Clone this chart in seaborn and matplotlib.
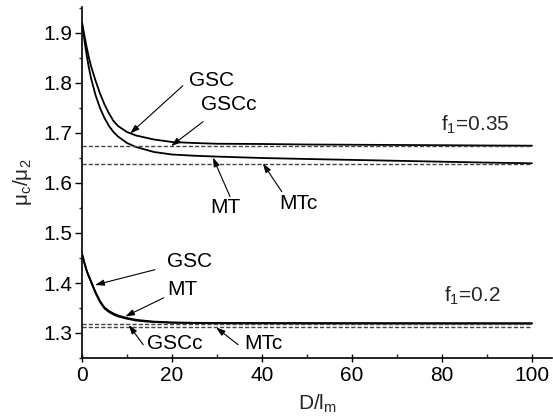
import numpy as np
import pandas as pd
import matplotlib
matplotlib.use("Agg")
import matplotlib.pyplot as plt
from matplotlib.ticker import MultipleLocator
import seaborn as sns

# ---- data ----
d_035 = [0, 0.5, 1, 1.5, 2, 3, 4, 5, 6, 7, 8, 10, 12, 14, 16, 20, 25, 30, 40, 50, 60, 75, 90, 100]
gsc_035 = [1.920, 1.897, 1.873, 1.852, 1.834, 1.805, 1.779, 1.757, 1.739, 1.724, 1.714,
           1.702, 1.695, 1.691, 1.687, 1.682, 1.680, 1.6785, 1.678, 1.677, 1.6765,
           1.6758, 1.675, 1.6746]
mt_035 = [1.920, 1.888, 1.858, 1.832, 1.810, 1.776, 1.750, 1.730, 1.714, 1.702, 1.693,
          1.680, 1.672, 1.667, 1.662, 1.657, 1.6545, 1.6528, 1.650, 1.648, 1.6462,
          1.6435, 1.6408, 1.6394]
gscc_035 = 1.6735
mtc_035 = 1.6373

d_02 = [0, 0.5, 1, 1.5, 2, 3, 4, 5, 6, 7, 8, 10, 12, 14, 16, 20, 25, 30, 50, 75, 100]
gsc_02 = [1.458, 1.442, 1.426, 1.414, 1.404, 1.382, 1.364, 1.351, 1.344, 1.339, 1.335,
          1.330, 1.3265, 1.3245, 1.3228, 1.3212, 1.3204, 1.3200, 1.3198, 1.3196, 1.3195]
mt_02 = [1.458, 1.441, 1.425, 1.413, 1.402, 1.380, 1.362, 1.349, 1.342, 1.337, 1.333,
         1.3285, 1.325, 1.3232, 1.3218, 1.3204, 1.3198, 1.3194, 1.3191, 1.3189, 1.3188]
gscc_02 = 1.3180
mtc_02 = 1.3125

x_ticks = [0, 20, 40, 60, 80, 100]
y_ticks = [1.3, 1.4, 1.5, 1.6, 1.7, 1.8, 1.9]

sns.set_theme(style="ticks")
plt.rcParams['font.family'] = ['Liberation Sans', 'DejaVu Sans']
plt.rcParams['mathtext.fontset'] = 'custom'
plt.rcParams['mathtext.rm'] = 'Liberation Sans'
plt.rcParams['mathtext.it'] = 'Liberation Sans:italic'

fig = plt.figure(figsize=(5.53, 4.2), dpi=100)
ax = fig.add_axes([82 / 553, 1 - 358 / 420, (552.25 - 82) / 553, (358 - 7) / 420])

solid_kw = dict(color="black", linewidth=1.3)
dash_kw = dict(color="#444444", linewidth=1.0, linestyle=(0, (3, 1.5)))

sns.lineplot(x=d_035, y=gsc_035, ax=ax, **solid_kw)
sns.lineplot(x=d_035, y=mt_035, ax=ax, **solid_kw)
sns.lineplot(x=d_02, y=gsc_02, ax=ax, **solid_kw)
sns.lineplot(x=d_02, y=mt_02, ax=ax, **solid_kw)
for c in [gscc_035, mtc_035, gscc_02, mtc_02]:
    sns.lineplot(x=[0, 100], y=[c, c], ax=ax, **dash_kw)

ax.set_xlim(0, 104.5)
ax.set_ylim(1.25, 1.952)
ax.set_xticks(x_ticks)
ax.set_yticks(y_ticks)
ax.set_yticklabels([f"{v:.1f}" for v in y_ticks])
ax.xaxis.set_minor_locator(MultipleLocator(10))
ax.yaxis.set_minor_locator(MultipleLocator(0.05))
ax.tick_params(axis='both', which='major', labelsize=15, width=1.0, color='black', labelcolor='black')
ax.tick_params(axis='y', which='major', direction='out', length=5, pad=2)
ax.tick_params(axis='y', which='minor', direction='out', length=2.5, width=1.0)
ax.tick_params(axis='x', which='major', direction='inout', length=6, pad=3)
ax.tick_params(axis='x', which='minor', direction='in', length=3, width=1.0)
sns.despine(ax=ax)
for s in ['left', 'bottom']:
    ax.spines[s].set_color('black')
    ax.spines[s].set_linewidth(1.2)

ax.set_xlabel("D/l$_\\mathregular{m}$", fontsize=15, labelpad=5)
ax.set_ylabel("μ$_\\mathregular{c}$/μ$_\\mathregular{2}$", fontsize=15, labelpad=7)

arrow = dict(arrowstyle='-|>,head_length=0.45,head_width=0.15', color='black', lw=0.8,
             shrinkA=0, shrinkB=0)
fs = 15
notes = [
    ("GSC", (28.9, 1.8046), (22.4, 1.7945), (10.7, 1.6990)),
    ("GSCc", (32.7, 1.7566), (26.9, 1.7226), (19.8, 1.6740)),
    ("MT", (31.8, 1.5506), (32.9, 1.5726), (29.1, 1.6510)),
    ("MTc", (48.0, 1.5586), (44.4, 1.5826), (40.2, 1.6390)),
    ("GSC", (24.0, 1.4426), (16.2, 1.4266), (2.9, 1.3960)),
    ("MT", (22.2, 1.3866), (18.2, 1.3706), (9.6, 1.3330)),
    ("GSCc", (20.7, 1.2786), (13.6, 1.2766), (10.4, 1.3160)),
    ("MTc", (40.4, 1.2786), (34.7, 1.2766), (29.8, 1.3110)),
]
for label, tpos, tail, tip in notes:
    ax.text(tpos[0], tpos[1], label, fontsize=fs, ha='center', va='center', color='black')
    ax.annotate('', xy=tip, xytext=tail, arrowprops=arrow)

ax.text(87.3, 1.7166, "$\\mathregular{f_1}$=0.35", fontsize=fs, ha='center', va='center')
ax.text(86.7, 1.3746, "$\\mathregular{f_1}$=0.2", fontsize=fs, ha='center', va='center')

fig.savefig("out.png", dpi=100)
